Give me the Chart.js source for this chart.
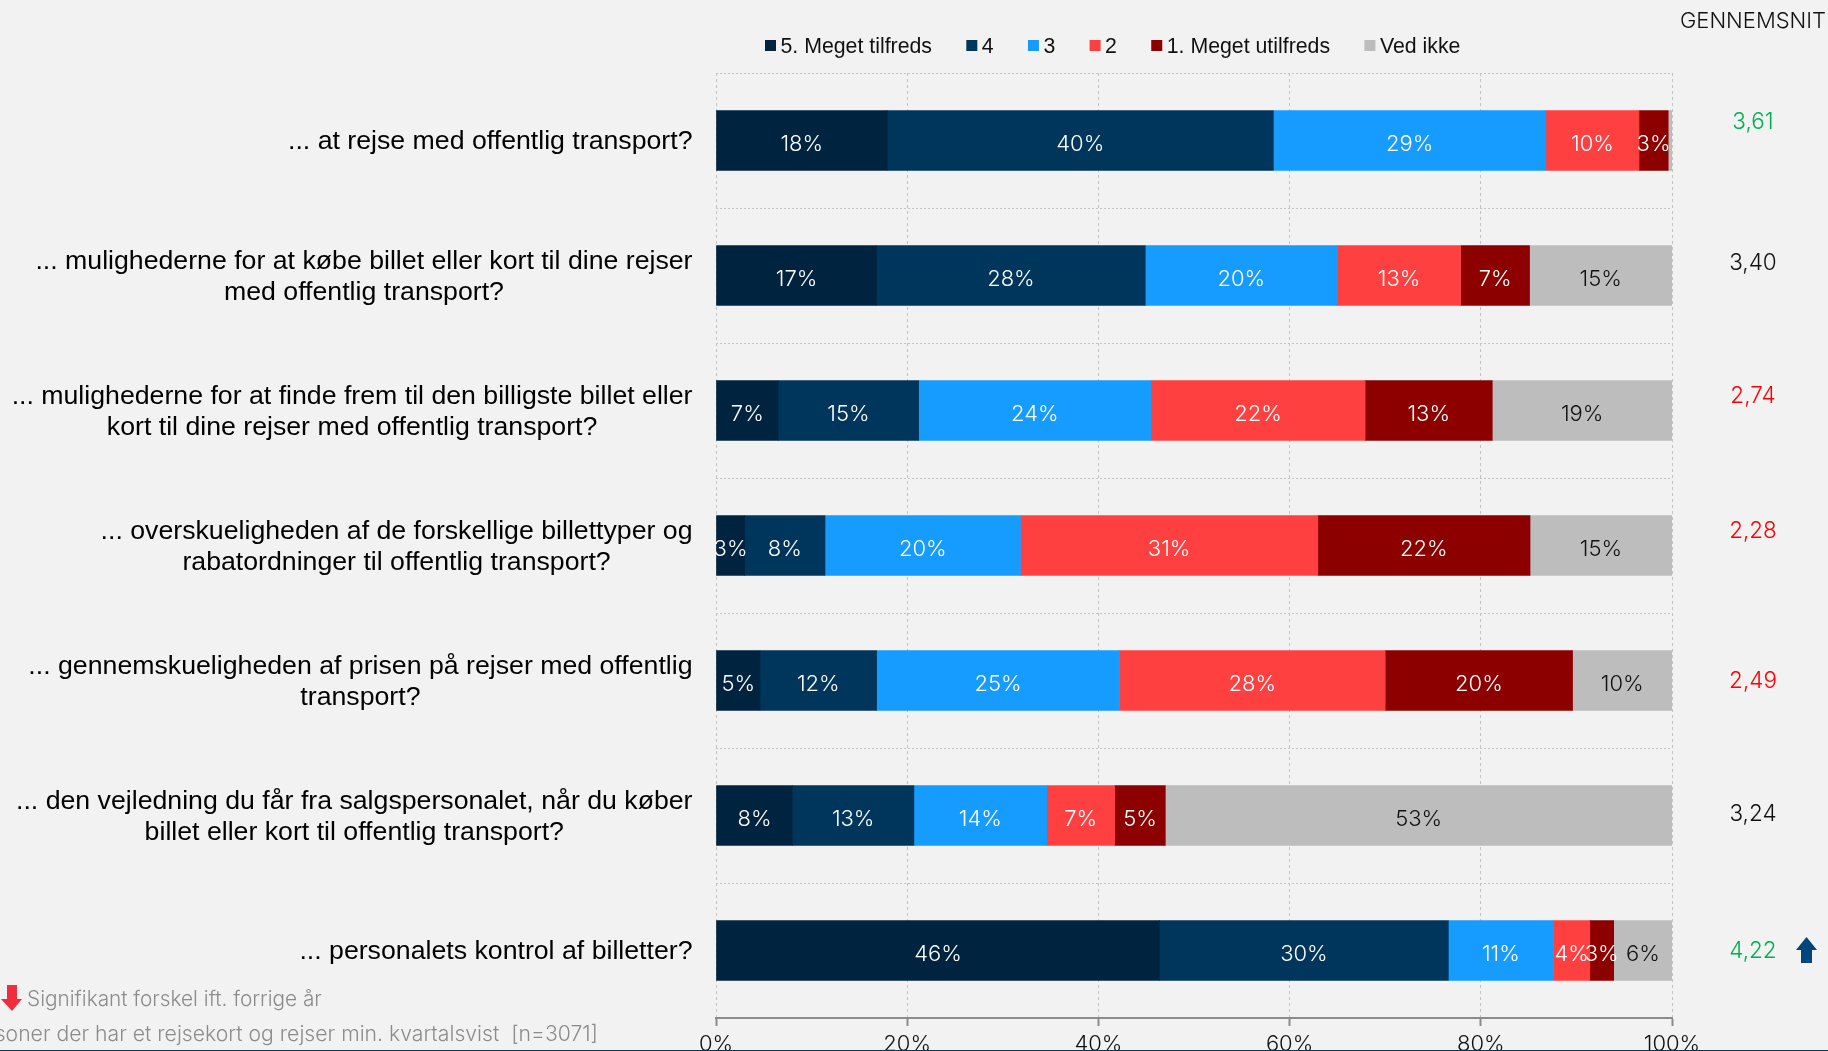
<!DOCTYPE html>
<html><head><meta charset="utf-8">
<style>
html,body{margin:0;padding:0;background:#f2f2f2;overflow:hidden}
#wrap{position:relative;width:1828px;height:1051px}
#rule{position:absolute;left:0;right:0;bottom:0;height:1px;background:#003a63}
</style>
<script src="https://cdn.jsdelivr.net/npm/chart.js@4"></script>
</head><body>
<div id="wrap"><canvas id="c" width="1828" height="1051"></canvas><div id="rule"></div></div>
<script>
const categories=[
 ["... at rejse med offentlig transport?"],
 ["... mulighederne for at købe billet eller kort til dine rejser","med offentlig transport?"],
 ["... mulighederne for at finde frem til den billigste billet eller","kort til dine rejser med offentlig transport?"],
 ["... overskueligheden af de forskellige billettyper og","rabatordninger til offentlig transport?"],
 ["... gennemskueligheden af prisen på rejser med offentlig","transport?"],
 ["... den vejledning du får fra salgspersonalet, når du køber","billet eller kort til offentlig transport?"],
 ["... personalets kontrol af billetter?"]
];
const seriesNames=["5. Meget tilfreds","4","3","2","1. Meget utilfreds","Ved ikke"];
const seriesColors=["#00233f","#00365c","#169bff","#ff4040","#8c0000","#bdbdbd"];
const labelColors=["#ffffff","#ffffff","#ffffff","#ffffff","#ffffff","#111111"];
const s5=[17.9,16.8,6.5,3.0,4.6,8.0,46.4];
const s4=[40.4,28.1,14.7,8.4,12.2,12.7,30.2];
const s3=[28.5,20.1,24.3,20.45,25.4,13.9,11.0];
const s2=[9.75,12.9,22.4,31.1,27.8,7.1,3.8];
const s1=[3.05,7.2,13.3,22.2,19.6,5.3,2.5];
const sDk=[0.4,14.9,18.8,14.85,10.4,53.0,6.1];
const seriesValues=[s5,s4,s3,s2,s1,sDk];
const averages=["3,61","3,40","2,74","2,28","2,49","3,24","4,22"];
const averageColors=["#00b050","#111111","#ff0000","#ff0000","#ff0000","#111111","#00b050"];
const averageOffsets=[-19,-13,-15,-15,0,-2,0];
const xTicks=[0,20,40,60,80,100];
const averageTitle="GENNEMSNIT";
const noteSignificant="Signifikant forskel ift. forrige år";
const noteBase="Personer der har et rejsekort og rejser min. kvartalsvist  [n=3071]";

const DISPLAY_FONT="Inter";
const QUESTION_FONT='26.7px "Liberation Sans"';
const LEGEND_FONT='21.3px "Liberation Sans"';
const annotate={
 id:'annotate',
 afterDatasetsDraw(chart){
  const {ctx,scales:{x,y}}=chart;
  ctx.save();
  ctx.textBaseline='middle';ctx.textAlign='center';
  ctx.font='300 22px '+DISPLAY_FONT;
  chart.data.datasets.forEach((ds,i)=>{
    const meta=chart.getDatasetMeta(i);
    meta.data.forEach((bar,j)=>{
      if(ds.data[j]<1)return;
      ctx.fillStyle=labelColors[i];
      ctx.fillText(Math.round(ds.data[j])+'%',(bar.base+bar.x)/2,bar.y+4);
    });
  });
  ctx.font=QUESTION_FONT;ctx.fillStyle='#000';
  categories.forEach((lines,i)=>{
    const cy=y.getPixelForTick(i);
    const w=Math.max(...lines.map(l=>ctx.measureText(l).width));
    const cx=692.5-w/2;
    lines.forEach((l,k)=>ctx.fillText(l,cx,cy+(k-(lines.length-1)/2)*30.5+1.5));
  });
  ctx.font='300 22.5px '+DISPLAY_FONT;
  averages.forEach((a,i)=>{
    ctx.fillStyle=averageColors[i];
    ctx.fillText(a,1753,y.getPixelForTick(i)+averageOffsets[i]+1);
  });
  ctx.font='300 22px '+DISPLAY_FONT;
  ctx.fillStyle='#111';ctx.fillText(averageTitle,1753,21);
  ctx.font=LEGEND_FONT;
  ctx.textAlign='left';
  let lx=765;
  chart.data.datasets.forEach(ds=>{
    ctx.fillStyle=ds.backgroundColor;ctx.fillRect(lx,40,11,11);
    lx+=15.5;
    ctx.fillStyle='#111';ctx.fillText(ds.label,lx,47);
    lx+=ctx.measureText(ds.label).width+34.3;
  });
  ctx.font='300 20.8px '+DISPLAY_FONT;
  ctx.fillStyle='#8c8c8c';
  ctx.fillText(noteSignificant,27,1000);
  ctx.font='300 21.2px '+DISPLAY_FONT;
  ctx.fillText(noteBase,598-ctx.measureText(noteBase).width,1035);
  ctx.fillStyle='#ee2e3c';
  ctx.beginPath();[[7,985],[17,985],[17,999],[22,999],[12,1011],[1,999],[7,999]].forEach((p,i)=>i?ctx.lineTo(p[0],p[1]):ctx.moveTo(p[0],p[1]));ctx.fill();
  ctx.fillStyle='#00457c';
  ctx.beginPath();[[1806.5,937],[1817,950],[1812,950],[1812,963],[1801,963],[1801,950],[1796,950]].forEach((p,i)=>i?ctx.lineTo(p[0],p[1]):ctx.moveTo(p[0],p[1]));ctx.fill();
  ctx.restore();
 }
};
new Chart(document.getElementById('c'),{
 type:'bar',
 data:{
  labels:categories,
  datasets:seriesNames.map((n,i)=>({label:n,data:seriesValues[i],backgroundColor:seriesColors[i],barThickness:60,borderWidth:0}))
 },
 options:{
  indexAxis:'y',responsive:false,animation:false,
  layout:{padding:{left:716,right:156,top:73,bottom:0}},
  plugins:{legend:{display:false},tooltip:{enabled:false}},
  scales:{
   x:{stacked:true,min:0,max:100,
      afterBuildTicks(a){a.ticks=xTicks.map(v=>({value:v}));},
      border:{display:true,color:'#8c8c8c',width:2,dash:[3,3]},
      grid:{color:'#c4c4c4',tickColor:'#8c8c8c',tickLength:8,tickBorderDash:[],lineWidth:1,tickWidth:2},
      ticks:{padding:5,maxRotation:0,color:'#111',font:{family:DISPLAY_FONT,size:22,weight:300},callback:v=>v+'%'},
      afterFit(a){a.height=33;}},
   y:{stacked:true,
      border:{display:false,dash:[2,2]},
      grid:{color:'#c4c4c4',tickLength:0,lineWidth:1},
      ticks:{display:false},
      afterFit(a){a.width=0;}}
  }
 },
 plugins:[annotate]
});
</script>
</body></html>
